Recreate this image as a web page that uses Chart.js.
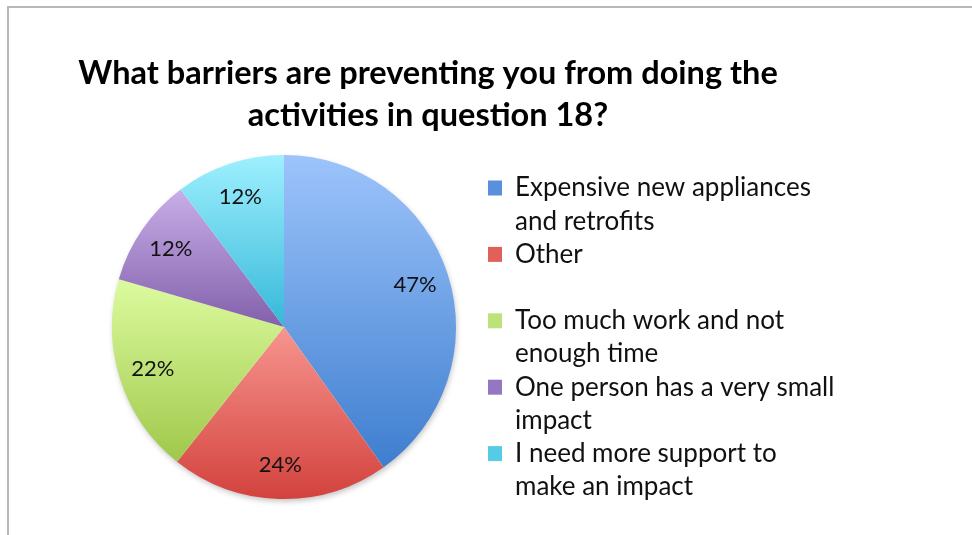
<!DOCTYPE html>
<html>
<head>
<meta charset="utf-8">
<script src="https://cdn.jsdelivr.net/npm/chart.js@4"></script>
<style>
  body { margin: 0; background: #fff; }
  #wrap { position: relative; width: 972px; height: 535px; }
  #frame { position: absolute; left: 7px; top: 6px; width: 965px; height: 529px;
           border-top: 2px solid #b8b8b8; border-left: 2px solid #b8b8b8; box-sizing: border-box; }
  #pie { position: absolute; left: 0; top: 0; }
</style>
</head>
<body>
<div id="wrap">
  <div id="frame"></div>
  <canvas id="pie" width="972" height="535"></canvas>
</div>
<script>
const titleLines = ["What barriers are preventing you from doing the", "activities in question 18?"];
const categories = [
  "Expensive new appliances\nand retrofits",
  "Other",
  "Too much work and not\nenough time",
  "One person has a very small\nimpact",
  "I need more support to\nmake an impact"
];
const values = [47, 24, 22, 12, 12];

// colours (light at top of slice, darker at bottom)
const lightColors = ["#9dc4fb", "#f7958f", "#dcfb9f", "#c8aee8", "#9ef0fe"];
const darkColors  = ["#3e7ecf", "#d3423d", "#a0c84b", "#8260ab", "#36b8d9"];
const boxColors   = ["#5a8fdc", "#e0605a", "#bde27a", "#9576c2", "#55cbe6"];
const pieRadius = 172;

function sliceFill(c) {
  const i = c.dataIndex;
  const chart = c.chart, area = chart.chartArea;
  if (!area || i === undefined) return boxColors[i] || boxColors[0];
  const cx = (area.left + area.right) / 2, cy = (area.top + area.bottom) / 2;
  const total = values.reduce((a, b) => a + b, 0);
  let start = -Math.PI / 2;
  for (let k = 0; k < i; k++) start += values[k] / total * 2 * Math.PI;
  const end = start + values[i] / total * 2 * Math.PI;
  const ys = [cy, cy + pieRadius * Math.sin(start), cy + pieRadius * Math.sin(end)];
  [-Math.PI / 2, Math.PI / 2, 3 * Math.PI / 2].forEach(a => {
    if (a >= start - 1e-9 && a <= end + 1e-9) ys.push(cy + pieRadius * Math.sin(a));
  });
  const g = chart.ctx.createLinearGradient(0, Math.min(...ys), 0, Math.max(...ys));
  g.addColorStop(0, lightColors[i]);
  g.addColorStop(1, darkColors[i]);
  return g;
}

// empty box on the left so the pie sits right of the title centre
const leftSpacer = {
  id: 'leftSpacer',
  beforeInit(chart) {
    Chart.layouts.addBox(chart, {
      position: 'left',
      weight: 100,
      fullSize: false,
      options: {},
      isHorizontal() { return false; },
      update(maxWidth, maxHeight) { this.width = 64; this.height = maxHeight; },
      draw() {}
    });
  }
};

// soft shadow under the pie
const pieShadow = {
  id: 'pieShadow',
  beforeDatasetsDraw(chart) {
    const arc = chart.getDatasetMeta(0).data[0];
    if (!arc) return;
    const ctx = chart.ctx;
    ctx.save();
    ctx.shadowColor = 'rgba(0,0,0,0.28)';
    ctx.shadowBlur = 6;
    ctx.shadowOffsetX = 1;
    ctx.shadowOffsetY = 3;
    ctx.fillStyle = '#fff';
    ctx.beginPath();
    ctx.arc(arc.x, arc.y, arc.outerRadius - 1, 0, 2 * Math.PI);
    ctx.fill();
    ctx.restore();
  }
};

// percent labels inside slices
const sliceLabels = {
  id: 'sliceLabels',
  afterDatasetsDraw(chart) {
    const ctx = chart.ctx;
    ctx.save();
    ctx.font = '22px Lato';
    ctx.fillStyle = '#111';
    ctx.textAlign = 'center';
    ctx.textBaseline = 'middle';
    chart.getDatasetMeta(0).data.forEach((arc, i) => {
      const p = arc.getProps(['x', 'y', 'startAngle', 'endAngle', 'outerRadius']);
      const mid = (p.startAngle + p.endAngle) / 2;
      const r = p.outerRadius * 0.8;
      ctx.fillText(values[i] + '%', p.x + r * Math.cos(mid), p.y + r * Math.sin(mid));
    });
    ctx.restore();
  }
};

new Chart(document.getElementById('pie'), {
  type: 'pie',
  data: {
    labels: categories,
    datasets: [{
      data: values,
      backgroundColor: sliceFill,
      borderWidth: 0,
      radius: pieRadius
    }]
  },
  options: {
    responsive: false,
    animation: false,
    layout: { padding: { left: 16, right: 132, top: 0, bottom: 20 } },
    plugins: {
      tooltip: { enabled: false },
      title: {
        display: true,
        text: titleLines,
        color: '#000',
        font: { family: 'Lato', weight: 'bold', size: 32.5, lineHeight: '42px' },
        padding: { top: 53, bottom: 2 }
      },
      legend: {
        position: 'right',
        align: 'start',
        fullSize: false,
        maxWidth: 352,
        title: { display: true, text: '', padding: 0, font: { size: 36, lineHeight: 1 } },
        labels: {
          boxWidth: 14,
          boxHeight: 15,
          padding: 0,
          color: '#111',
          font: { family: 'Lato', size: 26, lineHeight: '33.2px' },
          generateLabels() {
            return categories.map((c, i) => {
              const lines = c.split('\n');
              while (lines.length < 2) lines.push('');
              return { text: lines, fillStyle: boxColors[i], strokeStyle: boxColors[i],
                       fontColor: '#111', lineWidth: 0, hidden: false, index: i };
            });
          }
        }
      }
    }
  },
  plugins: [leftSpacer, pieShadow, sliceLabels]
});
</script>
</body>
</html>
